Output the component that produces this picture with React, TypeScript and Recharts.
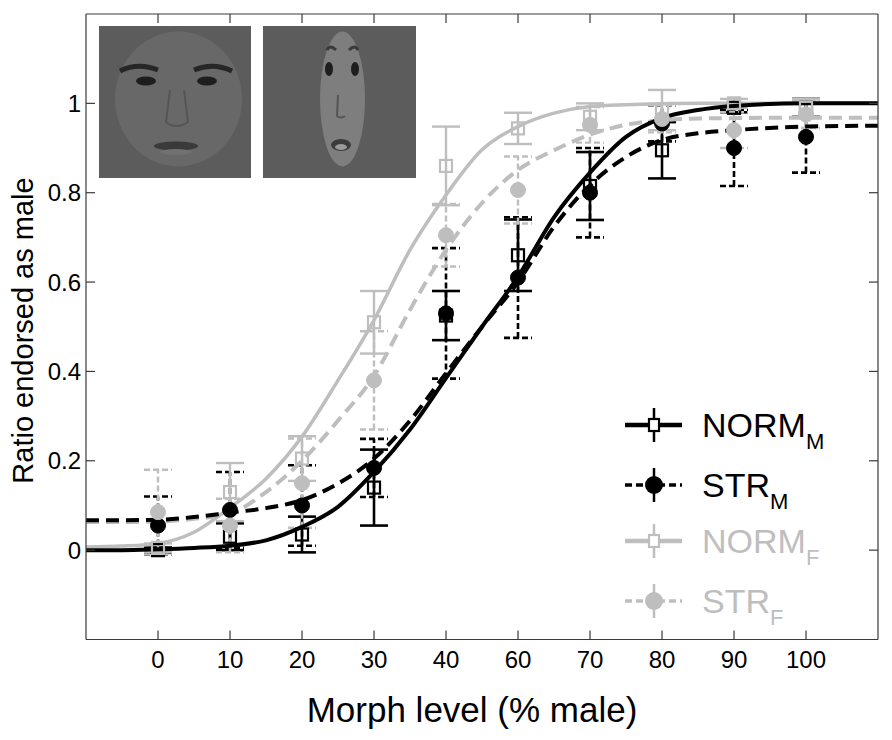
import React from 'react';
import { ComposedChart, Line, Scatter, XAxis, YAxis, ErrorBar, Legend } from 'recharts';

// ---- data ----
const xLabels = ['0', '10', '20', '30', '40', '60', '70', '80', '90', '100'];
const xPositions = [0, 1, 2, 3, 4, 5, 6, 7, 8, 9];
const yTicks = [0, 0.2, 0.4, 0.6, 0.8, 1];

const normM = [0.0, 0.03, 0.035, 0.14, 0.525, 0.66, 0.815, 0.895, 0.99, 0.99];
const normMErr = [0.006, 0.03, 0.04, 0.085, 0.055, 0.08, 0.076, 0.063, 0.01, 0.02];
const strM = [0.055, 0.09, 0.1, 0.184, 0.53, 0.61, 0.8, 0.955, 0.9, 0.925];
const strMErr = [0.065, 0.085, 0.09, 0.065, 0.146, 0.135, 0.1, 0.04, 0.085, 0.08];
const normF = [0.005, 0.13, 0.205, 0.51, 0.86, 0.944, 0.97, 0.985, 1.0, 0.99];
const normFErr = [0.01, 0.065, 0.05, 0.07, 0.088, 0.035, 0.03, 0.045, 0.01, 0.02];
const strF = [0.085, 0.055, 0.15, 0.38, 0.705, 0.806, 0.952, 0.965, 0.94, 0.975];
const strFErr = [0.095, 0.06, 0.1, 0.11, 0.07, 0.075, 0.04, 0.03, 0.04, 0.03];

// fitted curves
const fitX = [-1, -0.5, 0, 0.5, 1, 1.5, 2, 2.5, 3, 3.5, 4, 4.5, 5, 5.5, 6, 6.5, 7, 7.5, 8, 9, 10];
const fitNormM = [0, 0, 0.002, 0.005, 0.01, 0.022, 0.052, 0.097, 0.175, 0.27, 0.385, 0.5, 0.612, 0.745, 0.845, 0.925, 0.967, 0.985, 0.994, 1.0, 1.0];
const fitStrM = [0.067, 0.067, 0.068, 0.074, 0.084, 0.094, 0.112, 0.149, 0.205, 0.29, 0.396, 0.5, 0.6, 0.724, 0.817, 0.88, 0.918, 0.933, 0.94, 0.948, 0.95];
const fitNormF = [0.007, 0.009, 0.015, 0.04, 0.095, 0.16, 0.254, 0.38, 0.515, 0.672, 0.795, 0.896, 0.948, 0.978, 0.993, 0.997, 0.999, 1.0, 1.0, 1.0, 1.0];
const fitStrF = [0.063, 0.063, 0.064, 0.07, 0.082, 0.13, 0.2, 0.29, 0.39, 0.538, 0.672, 0.777, 0.851, 0.895, 0.93, 0.952, 0.962, 0.966, 0.967, 0.968, 0.968];

const BLACK = '#000000';
const GRAY = '#bebebe';
const AX = '#3a3a3a';
const FONT = '"Liberation Sans", Arial, Helvetica, sans-serif';

const points = (ys: number[], errs: number[]) => xPositions.map((x, i) => ({ x, y: ys[i], err: errs[i] }));
const curve = (ys: number[]) => fitX.map((x, i) => ({ x, y: ys[i] }));

const BottomTick = (p: any) => (
  <g>
    <line x1={p.x} x2={p.x} y1={p.y} y2={p.y - 9} stroke={AX} strokeWidth={1.2} />
    <text x={p.x} y={p.y + 28} textAnchor="middle" fontSize={24} fontFamily={FONT} fill="#000">
      {xLabels[p.payload.value]}
    </text>
  </g>
);
const TopTick = (p: any) => (
  <line x1={p.x} x2={p.x} y1={p.y} y2={p.y + 9} stroke={AX} strokeWidth={1.2} />
);
const LeftTick = (p: any) => (
  <g>
    <line x1={p.x} x2={p.x + 9} y1={p.y} y2={p.y} stroke={AX} strokeWidth={1.2} />
    <text x={p.x - 5} y={p.y} dy="0.36em" textAnchor="end" fontSize={24} fontFamily={FONT} fill="#000">
      {String(p.payload.value)}
    </text>
  </g>
);
const RightTick = (p: any) => (
  <line x1={p.x} x2={p.x - 9} y1={p.y} y2={p.y} stroke={AX} strokeWidth={1.2} />
);

const Square = (color: string) => (p: any) =>
  p.cx == null ? null : (
    <rect x={p.cx - 6} y={p.cy - 6} width={12} height={12} fill="none" stroke={color} strokeWidth={2.2} />
  );
const Dot = (color: string) => (p: any) =>
  p.cx == null ? null : <circle cx={p.cx} cy={p.cy} r={7.5} fill={color} stroke={color} strokeWidth={1} />;

const legendRows = [
  { name: 'NORM', sub: 'M', color: BLACK, dashed: false, marker: 'square' },
  { name: 'STR', sub: 'M', color: BLACK, dashed: true, marker: 'circle' },
  { name: 'NORM', sub: 'F', color: GRAY, dashed: false, marker: 'square' },
  { name: 'STR', sub: 'F', color: GRAY, dashed: true, marker: 'circle' },
];
const legendRowY = [35, 95, 151, 211];

const renderLegend = () => (
  <svg width={260} height={240} style={{ display: 'block' }}>
    {legendRows.map((r, i) => {
      const y = legendRowY[i];
      return (
        <g key={i}>
          <line x1={15} x2={72} y1={y} y2={y} stroke={r.color} strokeWidth={r.dashed ? 3.5 : 4.5}
            strokeDasharray={r.dashed ? '7 4' : undefined} />
          <line x1={44} x2={44} y1={y - 17} y2={y + 17} stroke={r.color} strokeWidth={2.5} />
          {r.marker === 'square' ? (
            <rect x={39} y={y - 6} width={10} height={12} fill="#fff" stroke={r.color} strokeWidth={2.2} />
          ) : (
            <circle cx={44} cy={y} r={9} fill={r.color} />
          )}
          <text x={92} y={y + 12} fontSize={34} fontFamily={FONT} fill={r.color}>
            {r.name}
            <tspan fontSize={22} dy={12}>{r.sub}</tspan>
          </text>
        </g>
      );
    })}
  </svg>
);

const Faces = () => (
  <svg width={892} height={740} style={{ position: 'absolute', left: 0, top: 0, pointerEvents: 'none' }}>
    {/* face 1 */}
    <rect x={99} y={26} width={152} height={152} fill="#5c5c5c" />
    <ellipse cx={178.5} cy={99} rx={63.5} ry={67.5} fill="#686868" />
    <path d="M120 71 Q138 62 158 70" stroke="#262626" strokeWidth={5} fill="none" />
    <path d="M194 70 Q213 62 232 71" stroke="#262626" strokeWidth={5} fill="none" />
    <ellipse cx={146} cy={81} rx={10} ry={4.5} fill="#1e1e1e" />
    <ellipse cx={207} cy={81} rx={10} ry={4.5} fill="#1e1e1e" />
    <path d="M170 90 L166 122 Q176 130 188 122 L184 90" stroke="#555" strokeWidth={2} fill="none" />
    <ellipse cx={176} cy={146} rx={22} ry={4.5} fill="#3a3a3a" />
    <ellipse cx={176} cy={152} rx={16} ry={3} fill="#727272" />
    {/* face 2 */}
    <rect x={263} y={26} width={153} height={152} fill="#5c5c5c" />
    <ellipse cx={342.5} cy={99} rx={22.5} ry={67.5} fill="#7e7e7e" />
    <path d="M327 50 Q330 44 336 50" stroke="#3a3a3a" strokeWidth={3} fill="none" />
    <path d="M349 50 Q355 44 358 50" stroke="#3a3a3a" strokeWidth={3} fill="none" />
    <ellipse cx={329} cy={69} rx={4} ry={7} fill="#1e1e1e" />
    <ellipse cx={355} cy={69} rx={4} ry={7} fill="#1e1e1e" />
    <path d="M338 95 L337 116 Q341 119 345 116" stroke="#555" strokeWidth={2} fill="none" />
    <ellipse cx={341} cy={145} rx={10} ry={6} fill="#3c3c3c" />
    <ellipse cx={341} cy={147} rx={6} ry={3} fill="#999" />
  </svg>
);

export default function App() {
  return (
    <div style={{ position: 'absolute', left: 0, top: 0, width: 892, height: 740, background: '#fff', fontFamily: FONT }}>
      <ComposedChart width={892} height={740} margin={{ top: 13, right: 13, bottom: 0.5, left: 0 }}>
        <XAxis
          xAxisId="b"
          type="number"
          dataKey="x"
          orientation="bottom"
          domain={[-1, 10]}
          ticks={xPositions}
          interval={0}
          height={100}
          tickSize={0}
          tickMargin={0}
          tickLine={false}
          axisLine={{ stroke: AX, strokeWidth: 1.2 }}
          tick={<BottomTick />}
          allowDataOverflow
          label={(props: any) => {
            const vb = props.viewBox || { x: 86, y: 639.5, width: 792 };
            return (
              <text x={vb.x + vb.width / 2 - 10} y={vb.y + 82} textAnchor="middle" fontSize={35} fontFamily={FONT} fill="#000">
                Morph level (% male)
              </text>
            );
          }}
        />
        <XAxis
          xAxisId="t"
          type="number"
          dataKey="x"
          orientation="top"
          domain={[-1, 10]}
          ticks={xPositions}
          interval={0}
          height={1}
          tickSize={0}
          tickMargin={0}
          tickLine={false}
          axisLine={{ stroke: AX, strokeWidth: 1.2 }}
          tick={<TopTick />}
          allowDataOverflow
        />
        <YAxis
          yAxisId="l"
          type="number"
          orientation="left"
          domain={[-0.2, 1.2]}
          ticks={yTicks}
          interval={0}
          width={86}
          tickSize={0}
          tickMargin={0}
          tickLine={false}
          axisLine={{ stroke: AX, strokeWidth: 1.2 }}
          tick={<LeftTick />}
          allowDataOverflow
          label={() => (
            <text transform="translate(33,330.5) rotate(-90)" textAnchor="middle" fontSize={29} fontFamily={FONT} fill="#000">
              Ratio endorsed as male
            </text>
          )}
        />
        <YAxis
          yAxisId="r"
          type="number"
          orientation="right"
          domain={[-0.2, 1.2]}
          ticks={yTicks}
          interval={0}
          width={1}
          tickSize={0}
          tickMargin={0}
          tickLine={false}
          axisLine={{ stroke: AX, strokeWidth: 1.2 }}
          tick={<RightTick />}
          allowDataOverflow
        />

        <Scatter xAxisId="b" yAxisId="l" name="NORM_M" data={points(normM, normMErr)} dataKey="y" shape={Square(BLACK)} isAnimationActive={false}>
          <ErrorBar dataKey="err" direction="y" width={14} stroke={BLACK} strokeWidth={2.6} />
        </Scatter>
        <Scatter xAxisId="b" yAxisId="l" name="STR_M" data={points(strM, strMErr)} dataKey="y" shape={Dot(BLACK)} isAnimationActive={false}>
          <ErrorBar dataKey="err" direction="y" width={14} stroke={BLACK} strokeWidth={2.6} strokeDasharray="6 3" />
        </Scatter>
        <Scatter xAxisId="b" yAxisId="l" name="NORM_F" data={points(normF, normFErr)} dataKey="y" shape={Square(GRAY)} isAnimationActive={false}>
          <ErrorBar dataKey="err" direction="y" width={14} stroke={GRAY} strokeWidth={2.4} />
        </Scatter>
        <Scatter xAxisId="b" yAxisId="l" name="STR_F" data={points(strF, strFErr)} dataKey="y" shape={Dot(GRAY)} isAnimationActive={false}>
          <ErrorBar dataKey="err" direction="y" width={14} stroke={GRAY} strokeWidth={2.4} strokeDasharray="6 3" />
        </Scatter>

        {/* fitted curves are drawn on the top/right axes, which share the same domains */}
        <Line xAxisId="t" yAxisId="r" data={curve(fitNormF)} dataKey="y" type="monotone" stroke={GRAY} strokeWidth={3.5} dot={false} activeDot={false} isAnimationActive={false} />
        <Line xAxisId="t" yAxisId="r" data={curve(fitStrF)} dataKey="y" type="monotone" stroke={GRAY} strokeWidth={4} strokeDasharray="13 7" dot={false} activeDot={false} isAnimationActive={false} />
        <Line xAxisId="t" yAxisId="r" data={curve(fitNormM)} dataKey="y" type="monotone" stroke={BLACK} strokeWidth={4} dot={false} activeDot={false} isAnimationActive={false} />
        <Line xAxisId="t" yAxisId="r" data={curve(fitStrM)} dataKey="y" type="monotone" stroke={BLACK} strokeWidth={4} strokeDasharray="13 7" dot={false} activeDot={false} isAnimationActive={false} />

        <Legend
          layout="vertical"
          align="center"
          verticalAlign="middle"
          content={renderLegend}
          wrapperStyle={{ position: 'absolute', left: 610, top: 390, width: 260, height: 240 }}
        />
      </ComposedChart>
      <Faces />
    </div>
  );
}
